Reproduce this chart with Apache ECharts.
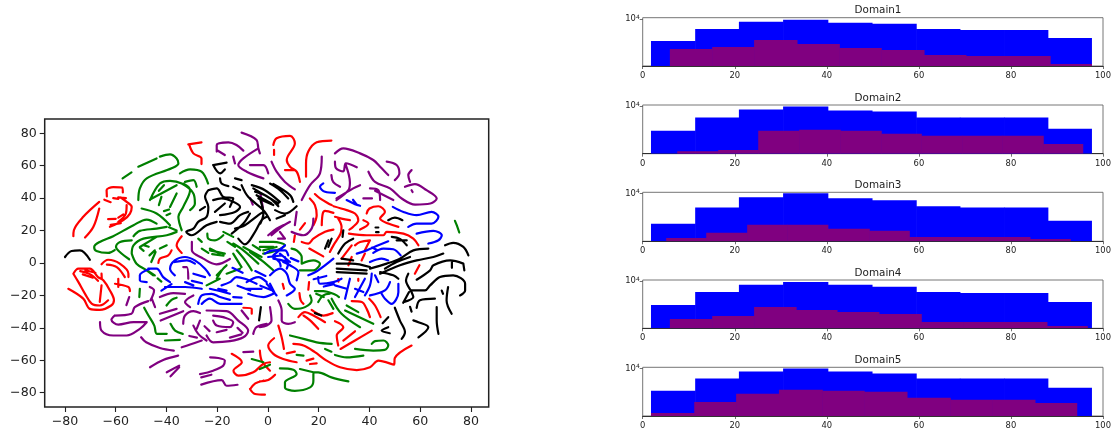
<!DOCTYPE html>
<html><head><meta charset="utf-8">
<style>html,body{margin:0;padding:0;background:#fff}#c{width:1119px;height:437px}</style>
<script src="https://cdn.jsdelivr.net/npm/echarts@6/dist/echarts.min.js"></script>
</head><body><div id="c"></div>
<script>
const xTicks=[-80,-60,-40,-20,0,20,40,60,80];
const yTicks=[-80,-60,-40,-20,0,20,40,60,80];
const histTicks=[0,20,40,60,80,100];
const domains=['Domain1','Domain2','Domain3','Domain4','Domain5'];
const blueEdges=[1.8,11.4,20.9,30.5,40.2,49.8,59.4,68.9,78.5,88,97.6];
const blue1=[4720,7120,9060,9710,8760,8460,7120,6880,6880,5230];
const blue2=[4360,6810,8960,9950,8660,8370,6810,6810,6810,4660];
const blue3=[3620,6280,8850,10150,8550,7980,6500,6280,6280,4010];
const blue4=[4450,6950,8850,9800,8850,8260,6950,6720,6720,4930];
const blue5=[4720,7120,9060,10050,9060,8460,7120,7120,7120,5230];
const purpleEdges1=[5.9,15.1,24.2,33.5,42.7,51.8,61.1,70.2,79.3,88.5,97.6];
const purple1=[3580,3840,4880,4260,3710,3460,2920,2820,2820,2140];
const purpleEdges2=[7.5,16.4,25.1,34,42.9,51.8,60.5,69.4,78.1,87,95.7];
const purple2=[2170,2270,4360,4510,4360,3930,3670,3670,3670,2790];
const purpleEdges3=[5.1,13.8,22.7,31.4,40.2,49.2,57.9,66.5,75.3,84.1,93];
const purple3=[2240,2660,3500,3500,3050,2850,2320,2320,2320,2170];
const purpleEdges4=[5.9,15.1,24.2,33.3,42.2,51.3,60.5,69.6,78.7,87.8,96.7];
const purple4=[2750,3050,4150,3750,3500,3270,2480,2480,2480,2170];
const purpleEdges5=[1.8,11.2,20.3,29.6,39,48.1,57.4,66.8,75.9,85.2,94.4];
const purple5=[2220,3230,4260,4880,4720,4560,3710,3460,3460,3120];

const redStrokes=[
[[-76.7,16.5],[-76.5,20.2],[-72.8,28.5],[-66.5,37.7]],[[-72.1,15.7],[-68.8,22.3],[-66.5,33.6]],
[[-63.5,41],[-63.6,45],[-61,46.8],[-57.5,46.5],[-57.2,43.5]],[[-64.5,39],[-62,37.5]],[[-61,40],[-59,39.5]],[[-59,40.5],[-56,40]],
[[-58,40.4],[-55.7,37.7],[-53.7,34.6],[-54.4,30.5],[-57,26.4],[-62.3,22.3]],[[-55.7,35.7],[-56,30.5],[-59,25.4]],
[[-63,27],[-60,27.2]],[[-59,28],[-57,30]],[[-62,23.5],[-58,24.5]],
[[-76.7,-6.6],[-74.7,-3.5],[-70.2,-3.5],[-67,-8.7],[-64.9,-10.7],[-62.3,-16.9],[-60.7,-23],[-61.8,-26.2],[-66.3,-28.9],[-70.2,-28.3],[-72.8,-22],[-78.7,-15.9]],
[[-76.7,-6.6],[-74.7,-11.8],[-72.1,-19],[-69.5,-25],[-66.3,-26.2],[-63,-23]],[[-65.6,-13.8],[-66.3,-24]],
[[-74,-5],[-70,-7],[-67,-11]],[[-73,-7],[-69,-9]],[[-72,-4.5],[-68,-6]],
[[-65.6,-0.8],[-63,2],[-58.4,-0.4],[-55,-6.6],[-55,-8.7]],[[-63.5,-1],[-59.6,-2.5],[-56.4,-8.7]],[[-60.3,-12.8],[-55,-14.8],[-54.4,-17.3]],
[[-65.6,-6.6],[-65.5,-10]],[[-59,-9.7],[-59,-14.8]],
[[-31.4,73.2],[-26.2,74.4]],[[-31,72.8],[-29.4,67.6],[-26.2,64.5],[-26.2,61]],
[[-34,16.5],[-36,10.9],[-34,6.2]],[[-38,7.8],[-39.3,4.7],[-42.6,2.7],[-43.2,0]],
[[2.1,72.8],[3.4,76.9],[8.7,78.4],[10.6,73.8],[7.4,63.5],[8.7,59.4],[11.3,56.3],[12.6,50]],[[2.4,69.7],[2.4,66.6]],[[6.7,57.3],[10.6,57.3]],
[[25,75.5],[19.2,74.4],[15.9,68.7],[15,61.4],[15,53.2]],
[[18.5,42.5],[20.5,39.8],[23.8,36.7],[25.1,35.7]],[[25.8,35],[31,32.6],[34.3,30.5],[35.6,26.4],[33.6,22.3],[32.1,20.6]],
[[16.5,39.8],[18.5,35.7],[19.2,29.5],[17.9,23.3]],[[21.2,23.3],[21.6,30.5],[22.5,32.2],[25.8,30.9]],[[26.4,28.5],[29,27.4],[32.3,26.4]],
[[27.7,27.4],[29,22.3],[28.6,18],[25.8,10.9],[24.4,6.8]],[[25.8,20.6],[22.5,19.2],[17.9,15],[15.9,12],[13.3,13]],[[10.6,17],[10.2,13]],[[12.6,20.6],[14.6,24.6]],
[[16.3,8.9],[21.8,4.1]],
[[38.9,30.5],[40,33.6],[43.5,35],[46.1,31.5],[44.2,27.4],[47.4,24.3],[51.4,22.3]],[[37.6,26.4],[39.6,24.3],[36.3,20.6]],
[[31.9,18.1],[38.9,17.1],[45.5,17.1],[46.8,19.2],[53.4,18.1],[57.3,15],[59.3,10.9]],
[[29,2.7],[33,10.9]],[[34.3,10.9],[36.3,13],[40.2,14],[38.2,7.8]],[[38.2,5.8],[36.9,1.6]],[[59.7,-1.4],[57.9,-6.6]],[[33,3.7],[31.7,-1.4]],
[[27.7,-10],[27.8,-11.5]],[[35.6,-9.7],[35.6,-11]],
[[12.4,-18.6],[12.9,-23],[14,-25.2]],[[5.8,-12.8],[6.3,-15.9]],[[16.2,-11.8],[15.9,-16.5]],
[[12,-33.4],[14.6,-30.3],[17.9,-32.4],[22.5,-36.5]],[[14,-32.4],[16.6,-35.4],[19.8,-40.6]],[[17.2,-28.9],[21.8,-32.4],[25.5,-30.9]],
[[26.4,-35.9],[29.7,-39.6],[27.1,-44.7],[27.7,-50.9]],[[29.7,-47.8],[34.3,-42.1]],[[28.6,-53],[34.3,-47.8],[40.9,-41.7]],
[[33,-23.5],[37,-24.1],[38.9,-28.3],[40.2,-33.4]],[[39.9,-22],[42.2,-26.2],[44.4,-33.4]],
[[10,-49.9],[14,-50.9],[18.5,-55],[23.1,-60.2],[28.4,-64.3],[35,-66],[40.2,-64.3],[43.5,-60.2],[49.7,-62.7],[50,-58.6],[56.6,-50.9]],
[[4.1,-38.6],[5.4,-45.8],[6.3,-53]],[[2.4,-46.4],[0.1,-50.9],[2.1,-56],[6,-59.2],[11.3,-61.2]],
[[-9.7,-27.6],[-6.4,-28.3],[-6.4,-31.3]],
[[-14.3,-56],[-10.3,-61.2],[-13.6,-66.4],[-11.7,-69.5],[-5.8,-67.4],[-1.8,-62.2],[0.8,-61.2]],[[-3.2,-54],[-2.5,-60.2],[-0.5,-64.3],[0.8,-66.4]],
[[-3.2,-73],[0.1,-72.2],[2.8,-68.9]],[[-7.1,-77.7],[-5.1,-80.8],[-1.2,-81.2]],[[-7,-77.7],[-5,-74.2],[-1.8,-72.6]],
[[7.4,-55.7],[10.6,-54.7]],[[15.2,-60.2],[17.9,-59]],[[16.6,-62.3],[19.2,-61.9]]
];
const greenStrokes=[
[[-57.3,52.2],[-53.8,55.9]],[[-51.1,59.4],[-43.9,64.5]],[[-42.6,65.6],[-38.6,67],[-36,64.5],[-35.3,61.4],[-38,58.4],[-47.8,52.2],[-50.5,46],[-51.1,38.8]],
[[-34.7,55.3],[-30.7,57.7],[-26.2,56.3],[-23.6,49]],[[-32.7,50],[-29.4,51.1],[-28.1,47]],
[[-46.5,38.8],[-42.6,49],[-38.6,50.7],[-34,49],[-29.4,42.9],[-28.8,36.7],[-30.7,32.6]],[[-46.5,39.2],[-36,48]],
[[-33.4,49],[-30.7,45],[-33.4,34.6],[-35.3,28.5],[-34,20.2]],[[-38.6,34.6],[-36,42.9]],[[-43,35.7],[-42,40.8]],[[-41,32],[-39,33]],[[-40,29.5],[-38.5,30.5]],[[-43,44.5],[-41,48]],
[[-49.8,33.6],[-43.9,30.5],[-38.6,23.3]],
[[-43.9,24.3],[-47.8,26.8],[-53,23.3],[-61,16.5],[-66.3,13],[-68.5,9.9],[-67.6,7.4],[-63,6.2],[-60.4,8]],
[[-53,16.5],[-50.5,19.8],[-43.9,21.2],[-39.9,22.3]],[[-53.7,14],[-58.3,13],[-59.9,9.9],[-58.4,6.8],[-54.7,2.3]],
[[-53.7,5.8],[-53,10.9],[-49.1,15],[-39.9,17.1],[-36,19.2]],[[-53.7,5.8],[-51.8,-0.4],[-47.8,-4.5],[-44.6,-7.6]],
[[-50.5,9.9],[-43.9,16.1]],[[-50.5,9.5],[-49,7.5]],[[-46,0.6],[-44.3,6.8]],[[-42.6,8.9],[-39.9,10.9]],[[-49,11],[-47,10]],[[-39,22],[-36,20]],
[[-23.9,18.1],[-23.5,15],[-20.9,14],[-17.6,17.1]],[[-27.5,15],[-26.1,13]],[[-26.1,8.9],[-23.5,6.2]],[[-22.9,7.8],[-17,5.8]],[[-22,5.5],[-17.5,4.5]],
[[-13.7,12],[-9.7,7.8],[-3.8,-0.4]],[[-12.3,7.8],[-9,1.6],[-6.4,-4.5]],[[-13.7,5.8],[-10.4,-2.5]],[[-7.1,6.8],[-2.5,1.6],[2.1,-4.5]],
[[-17.6,19.2],[-13.7,16.1]],[[-9.7,9.9],[-2.5,3.7]],[[-16,13],[-13,10]],[[-6,11],[-3,8]],
[[-3.2,13],[2.1,13],[6.7,10.9],[3.4,7.8],[-1.9,5.8]],[[-3.2,9.9],[2.1,9.9]],[[-1.9,7.8],[3.4,9.9]],
[[9.3,8.9],[11.3,7.8],[13.3,3.7],[13.3,-0.4],[17.9,1.6],[20.5,-0.4],[17.9,-4.5],[12.6,-4.5]],
[[73.7,26],[74.4,23.3],[75.4,18.8]],
[[18.5,-17.3],[21.8,-17.3],[26.4,-19.4],[28,-21]],[[19.8,-24.1],[21.8,-20],[24.4,-18.9]],[[19,-19],[22,-21]],
[[8,-25.2],[10.6,-28.3],[14.6,-27.2],[17.2,-23.1],[16.6,-20]],[[23.8,-23],[25.8,-28.3]],[[25.1,-22],[29,-31.3],[36.3,-39.6]],[[30.4,-29.3],[41.5,-37.5]],[[31,-26.2],[35.6,-30.3]],
[[8.7,-44.7],[14,-46.8],[19.2,-48.9],[25.1,-49.9]],[[22.5,-53],[25,-54.7]],[[26.4,-56.7],[31,-58.2],[37.6,-57.1]],
[[34.3,-53],[41.5,-54],[46,-53.6],[47.4,-50.9],[45.5,-47.8],[42.2,-48.2],[40.9,-49.9]],[[11.3,-56.7],[14,-57.1]],
[[4.7,-65],[10,-65.8],[11.3,-68.5],[6.7,-73.6],[6.7,-76.7],[10.6,-78.8],[16.6,-76.7],[17.9,-72.6],[17.9,-67.4],[19.8,-67.4],[25,-70.5],[31.7,-73]],[[12.6,-65.4],[17.9,-67.4]],
[[-50.5,-15.9],[-50.7,-21]],[[-48.8,-27.6],[-47.1,-32.4],[-44.8,-38.6],[-43.8,-43.7],[-39.9,-43.7]],[[-38.4,-37.5],[-36.6,-41.7],[-33.6,-43.7]],[[-40.6,-47.8],[-34.7,-47.4]],
[[-40,-26.2],[-38,-22.7],[-36,-21.4]],[[-24.2,-13.8],[-19,-9.7]],[[-20.2,-7.6],[-18.3,-4.5]],[[-47.8,-4.5],[-45.2,-7.6]],[[-43.5,-9.5],[-42,-11.5]],
[[-6.4,-59.2],[-1.8,-61.2]],[[-3.2,-65.4],[0.8,-62.7]],[[-16.3,-6.6],[-11,-3.5]],[[-20.2,-9.7],[-18.2,-4.5],[-16.3,-1.4]],[[-22.9,8.9],[-19,5.8]],[[-46.7,4.7],[-44.6,7.8]]
];
const blueStrokes=[
[[-46.5,-3.5],[-50.5,-7.6],[-50.5,-10.7],[-47.8,-11.8]],[[-47.2,-3.5],[-43.9,-3.5],[-41.3,-8.7],[-38.6,-11.8]],
[[-36.7,-7.6],[-38.6,-3.5],[-36.7,1.6],[-32.7,3.7],[-28.8,1.6],[-24.8,-3.5],[-22.9,-7.6]],[[-36.7,0.6],[-32,1.6],[-28.8,-0.4]],
[[-32.7,-11.8],[-29.4,-13.8]],[[-29.4,-6.6],[-24.8,-8.7]],[[-40.6,-14.8],[-32.7,-14.8],[-26.1,-15.9]],
[[-27.5,-25.2],[-26.1,-20],[-22.2,-19],[-18.9,-21],[-15,-22.7]],[[-26.1,-25.2],[-22.9,-22],[-18.9,-25.2],[-10.4,-25.2]],
[[-22.9,-15.9],[-17.6,-17.9],[-15,-19]],[[-19.6,-15.9],[-16.3,-17]],[[-13.7,-21],[-10.4,-21.4]],
[[-18.3,-13.8],[-15,-11.8],[-12.4,-8.7],[-9.1,-9.7],[-4.5,-12.8]],[[-8.4,-15.9],[-2.5,-15.9]],[[-7.8,-19],[-1.8,-21],[2.1,-19]],[[-8.4,-11.8],[-3.8,-8.7],[-0.5,-11.8]],[[-0.5,-12.8],[3.4,-20]],
[[-1.2,5.8],[2.1,7.8],[6.7,7.8],[8,4.7]],[[0.1,3.7],[5.4,4.7]],[[2.1,2.7],[8,-0.4],[7.4,-3.5]],[[2,4],[4.5,0.5],[5,-2]],
[[0.8,-7.6],[4.7,-3.5],[7.4,-6.6],[8.7,-12.8],[10.6,-15.9],[7.4,-20]],[[0.8,-12.8],[2.8,-19]],[[6,0.6],[8.7,-1.4],[12,-5.6],[11.3,-10.7]],[[6.7,3.7],[7.4,-0.4]],
[[15.9,-7.6],[19.8,-4.5],[25.8,2.7]],[[19.8,-8.7],[20.5,-12.8],[25.8,-11.8],[29,-9.7]],[[26.4,-13.8],[31,-15.9]],[[32.3,-9.7],[30.4,-22]],
[[34.3,-15.9],[37.6,-17.9]],[[38.2,-9.7],[34.3,-21]],[[40.9,-6.6],[40.2,-13.8],[38.2,-20]],[[40.2,-20],[46.1,-16.9],[48.1,-11.8]],[[42.2,-7.6],[43.5,-11.8]],
[[51.4,-12.8],[51.4,-18],[48.7,-25.2],[46.1,-22],[44.8,-19]],
[[21.8,49.1],[20.5,47],[22.5,43.9],[26.4,43.3]],[[31,38.8],[34.3,36.3],[36.3,35.3]],[[33.5,39],[35,36]],
[[49.2,34.6],[53.4,31.5],[58.6,29.5],[64.5,31.5],[67.2,28.5],[64.5,24.3],[58.6,24.3],[55.3,22.3]],[[58.6,18.1],[65.2,19.8],[68.5,17.1],[67.2,14],[63.2,12]],
[[35,5.8],[38.9,7.8],[43.5,10.9],[47.4,13.4]],[[41.5,6.2],[45.5,8.9],[49.4,8.5],[52.3,4.7]],[[40.2,0.6],[44.8,2.7],[47.4,1.6]],[[41,9.5],[43,8]],
[[2.1,4.7],[6.7,10.9]],[[4.7,5.8],[8.7,0.6]],
[[-42,-17],[-38,-13]],[[-30,-11],[-26,-12.5]],[[-12,-14],[-7,-17]],[[-3,-14],[1,-16.5]],[[-14,-3],[-10,-6]],[[9,3],[12,1]],[[18,-10],[23,-8]],[[22,-14.5],[26,-13]],[[-5,-5],[-1,-8]]
];
const purpleStrokes=[
[[-10.4,80.4],[-4.5,75.9],[-3.8,70.7],[-3.2,67.6]],[[-3.8,70.7],[-9.7,64.5],[-11.7,60.4],[-8.4,56.3],[-1.8,52.2]],
[[-20.2,68.7],[-20.2,72.8],[-15.6,74.4],[-12.4,72.8],[-9.7,69.3]],[[-20.2,69.7],[-17,66.6]],[[-13.7,65.6],[-13,61.4]],[[-7.1,60.4],[-1.8,60.4],[0.1,55.3]],
[[1.4,62.5],[3.4,56.3],[6.7,50],[10.6,45.4]],[[21.2,65.6],[20.5,55.3],[16.6,48],[13.3,38.8]],
[[26.4,67.6],[29.7,70.7],[36.3,67.6],[41.5,63.5],[44.2,59.4],[47.4,54.2]],
[[39.6,56.3],[42.2,50],[48.1,46],[52.7,39.8],[58,36],[64,36.7],[66.5,39.8],[62.5,44.9],[57.9,48.7],[54,47]],
[[26.4,62.5],[26.8,58.5],[29.7,56.5],[30.7,61.5],[35,59]],[[30.7,60.4],[32.3,49.7],[31.7,44.9],[27,38.8]],[[27,39.8],[33.6,46],[36.3,48]],[[25,54.2],[25.7,50],[28.4,47]],
[[46.8,62.5],[50.7,60.4],[51.8,55.3],[50,51.1]],[[56.6,57.3],[55.3,54.2],[56,50]],[[40.2,46],[43.5,44.9],[44.2,38.8]],[[42.2,44.5],[49.4,38.8]],[[37.6,39.8],[41,39.8]],[[56.6,44.9],[57,43.8]],
[[11.3,31.5],[10.6,23.3]],[[17.9,27.4],[17.2,21.2],[13.9,17.1],[9.3,19.2]],[[1.4,17.1],[5.4,22.3],[8.7,25.4]],[[4.7,19.2],[6.7,15],[4,15]],
[[-30,13],[-30,7.8],[-25.5,2.7],[-20.3,-0.8],[-15,2.5]],[[0.1,17.1],[3.4,21.2],[6,23.3]],
[[-66.2,-36.5],[-65.6,-41.7],[-61,-44.7],[-55.7,-44.7],[-50.5,-40.6],[-47.8,-36.5]],[[-60.4,-32.4],[-61.7,-35],[-59,-38],[-53,-36.5],[-47.8,-36.5]],
[[-60.4,-32.4],[-53.8,-31.3],[-52.5,-27.2],[-47.2,-23.5]],[[-55.8,-26],[-54.7,-21]],[[-46.3,-23],[-44.9,-16.9],[-46.6,-14.8]],[[-44.5,-27.2],[-45.8,-22]],
[[-42.6,-21],[-37.3,-18.6],[-32.7,-19]],[[-30.7,-27.2],[-32.7,-24.1],[-29.4,-20]],[[-42.6,-31.3],[-36,-28.3]],[[-42.3,-35.5],[-33.4,-29.7]],
[[-50,-45.8],[-48,-48.9],[-42.6,-52.4],[-37.1,-54]],[[-46.5,-64.3],[-41.3,-59.8],[-35.4,-57.1]],[[-39.9,-67.4],[-35,-63.3]],[[-38.4,-69.9],[-35,-64.3]],
[[-26.8,-68.5],[-21.6,-66.4],[-17.6,-63.3],[-17,-60.2],[-19.6,-58.6],[-22.8,-58.2]],[[-26.3,-70.5],[-22.3,-68.9]],[[-26.3,-75],[-18.3,-72.2],[-16.3,-75.7],[-12,-75.1]],[[-9.7,-55],[-5.8,-54.7]],
[[-33.4,-37.5],[-32.7,-32.4],[-29.4,-29.7],[-26.8,-30.9]],[[-24.2,-29.3],[-16.3,-29.7],[-11.7,-35.5],[-7.8,-41.7],[-9.7,-45.8],[-15,-48.2],[-21.6,-48.9],[-24.2,-44.7]],
[[-21.6,-32.4],[-17.6,-33.4],[-13.7,-36.5],[-15,-39.6],[-20.2,-38.6],[-21.6,-35.5]],[[-10.4,-29.3],[-7.8,-34.4]],[[-28.1,-40.6],[-26.8,-35.5]],[[-29.4,-38.6],[-27.5,-43.7],[-24.2,-47.8]],
[[-20.2,-42.7],[-16.3,-41.2]],[[-15,-46],[-10.5,-44]],[[-34,-52],[-30.7,-50.3],[-26.1,-47.8]],[[-5.8,-43.7],[-4.5,-39.6],[-0.5,-37.5]],[[-33.4,-2.5],[-32,-2.5],[-31.4,-9.7]],
[[4.1,-23.1],[5.4,-29.3],[5.4,-35.5],[8,-37.5],[10.6,-36.5]],[[0.8,-27.2],[1.4,-35.5],[-0.5,-38.6],[-3.2,-39.6]],
[[-31,-45],[-28,-46]],[[-25,-39],[-23,-42]],[[-12,-40],[-10,-43]],[[-7,40],[-6,36]],[[-3,43],[-2,34]]
];
const blackStrokes=[
[[-80,3.7],[-77.4,7.4],[-74.1,7.8],[-70.2,2]],[[-21.6,60.4],[-16.3,61.9]],[[-21.6,60.4],[-18.9,55.3],[-17,57.7]],[[-18.9,52.2],[-18.3,49],[-15.6,47.4]],
[[-13,52.2],[-10.4,51.1]],[[-13.7,47],[-11,45]],[[-10.4,48],[-7.8,40.8],[-1.8,32.6],[0.8,26.4]],
[[-23.5,44.9],[-24.8,40.8],[-23.5,34.6],[-24.2,28.5],[-27.5,25.4],[-29.4,21.2],[-32.2,19.2],[-30.2,17.1],[-24.2,23.3],[-20.2,25.4]],
[[-23.5,44.9],[-20.2,46],[-17.6,40.8],[-13.7,39.8],[-15,34.6]],[[-21.6,38.8],[-18.3,39.8],[-13.7,37.7],[-11,34.6],[-13,31.5],[-18.9,29.5]],[[-20.9,31.5],[-17,36.7]],
[[-18.9,25.4],[-15,24.3],[-11,29.5],[-7.8,31.5]],[[-14.3,18.1],[-9.7,24.3],[-7.1,30.5]],[[-13,21.2],[-9.1,23.3],[-3.8,29.5],[-1.8,31.5]],[[-11.7,15],[-9.1,11.5],[-5.1,19.2],[-2.5,26.4],[-0.5,28.5]],
[[-26.8,32.6],[-24.8,34.6]],
[[-6.4,48],[-1.2,44.9],[4.7,37.7]],[[-5.8,46],[-1.2,41.8],[4.1,36.7]],[[-5.1,44],[0,40.8],[4.1,35]],[[-4.5,41.8],[1.4,36.7]],[[-3.8,39.8],[2.1,35.7]],[[2.1,48.7],[8.7,41.9],[10,37.7]],[[0.8,49],[4.7,45],[8,39.8]],
[[2.8,32.6],[6.7,30.5],[11.3,35]],[[3.4,27.4],[6.7,29.5]],[[-3,38.8],[-1.8,30.5],[-3,24.3]],
[[47.4,26.4],[50,28],[53,26.4]],[[42.4,21.9],[43.5,21.9]],[[42.6,19],[43.6,19]],[[48.8,16.1],[52,14.9],[54.7,10.9]],[[50.7,14],[54.7,14]],
[[27.7,5.8],[30.4,12],[33.6,15]],[[23.8,14],[22.5,8.9]],[[25.1,15],[23.8,9.9]],[[29.7,20.2],[29.4,16.1]],[[69.8,10.9],[73,12.4],[77,9.9],[79,4.7]],
[[27.1,-0.4],[33,-0.4],[40.2,-2.5]],[[27.1,-3.5],[38.9,-4.5]],[[27.1,-5.6],[38.9,-6.6]],[[29,2.7],[33.6,1.6]],
[[40.2,-3.5],[46.8,-0.4],[52,2.7],[57.3,7.8],[63.2,8.9]],[[44.2,-6.6],[52,-1.4],[58.6,1.6],[65.2,3.7],[69.1,5.8]],[[46.1,-3.5],[50.7,0.6],[56,3.7]],[[44.2,-5.6],[49.4,-7.6],[51.4,-9.7]],
[[58.6,-10.3],[63.9,-4.5],[65.2,-1.4],[71.8,1.6],[77,-0.4]],[[72.5,0.5],[72.5,-3]],[[77,-0.4],[77.4,-4.5]],
[[53.4,-24.1],[57.3,-21],[56.6,-18],[54.4,-10.7],[55.3,-6.6]],[[56.6,-16.9],[61.9,-16.9],[63.9,-13.8],[67.8,-8.7],[73,-7.6],[77.7,-12.8],[77.7,-16.9],[75.7,-20]],
[[58.6,-27.7],[59.9,-23],[65.8,-22]],[[57.3,-35.4],[59.3,-36.5],[63.2,-39.6],[59.3,-45.8]],[[55.6,-17.9],[53.3,-24.5]],[[56,-27],[56.6,-30]],
[[50,-27.6],[52,-35.5],[54,-42.7],[52.7,-46.8]],[[47.4,-33.4],[45.2,-37.1]],[[47.4,-39.6],[44.8,-41.7],[48,-43.3]],
[[66.5,-27.2],[66.5,-35.4],[67.2,-43.7]],[[71,-14.8],[70.4,-23.1],[72.4,-31.3]],[[68.5,-17],[69,-19]],[[18.5,-30.9],[21,-32.4]],[[-2.8,-27.2],[-3.5,-35.4]]
];

const blues=[blue1,blue2,blue3,blue4,blue5];
const purples=[purple1,purple2,purple3,purple4,purple5];
const pEdges=[purpleEdges1,purpleEdges2,purpleEdges3,purpleEdges4,purpleEdges5];
const histTops=[17.7,105,192.3,280,367.3];
const histBottoms=[66,153.7,241.3,328.3,416];
const yLogMin=2000, yLogMax=10450;
const FONT='"DejaVu Sans",sans-serif';

function withBreaks(strokes){const out=[];strokes.forEach(s=>{s.forEach(p=>out.push(p));out.push([null,null]);});return out;}
const strokeSeries=[['#ff0000',redStrokes],['#008000',greenStrokes],['#0000ff',blueStrokes],['#800080',purpleStrokes],['#000000',blackStrokes]].map(([color,st])=>({
  type:'line',xAxisIndex:0,yAxisIndex:0,data:withBreaks(st),smooth:0.35,connectNulls:false,showSymbol:false,symbol:'none',
  lineStyle:{color,width:2.2,cap:'round',join:'round'},silent:true,animation:false
}));

function bins(edges,vals){return vals.map((v,i)=>[edges[i],edges[i+1],v]);}
function barRender(color,count){return function(params,api){
  const a=api.coord([api.value(0),api.value(2)]);
  const b=api.coord([api.value(1),yLogMin]);
  const overlap=params.dataIndex<count-1?0.6:0;
  return {type:'rect',shape:{x:a[0],y:a[1],width:b[0]-a[0]+overlap,height:b[1]-a[1]},style:{fill:color}};
};}

const grids=[{left:44.7,top:119,width:444,height:288,show:true,borderColor:'#222',borderWidth:1.5,backgroundColor:'#fff'}];
const xAxes=[{type:'value',gridIndex:0,min:-88,max:87,splitLine:{show:false},axisLine:{show:false,onZero:false},
  axisTick:{customValues:xTicks,length:5,lineStyle:{color:'#222',width:1.1}},
  axisLabel:{customValues:xTicks,fontFamily:FONT,fontSize:12.6,color:'#222',margin:8,formatter:v=>String(v).replace('-','\u2212')}}];
const yAxes=[{type:'value',gridIndex:0,min:-88.8,max:88.8,splitLine:{show:false},axisLine:{show:false,onZero:false},
  axisTick:{customValues:yTicks,length:5,lineStyle:{color:'#222',width:1.1}},
  axisLabel:{customValues:yTicks,fontFamily:FONT,fontSize:12.6,color:'#222',margin:8,formatter:v=>String(v).replace('-','\u2212')}}];
const series=[...strokeSeries];
const titles=[];
domains.forEach((d,i)=>{
  const k=i+1;
  grids.push({left:642.7,top:histTops[i],width:460.3,height:histBottoms[i]-histTops[i],show:true,borderColor:'#666',borderWidth:0.9});
  xAxes.push({type:'value',gridIndex:k,min:0,max:100,interval:20,splitLine:{show:false},
    axisLine:{show:true,onZero:false,lineStyle:{color:'#222',width:0.9}},
    axisTick:{customValues:histTicks,length:3,lineStyle:{color:'#333',width:0.7}},
    axisLabel:{customValues:histTicks,fontFamily:FONT,fontSize:8.4,color:'#222',margin:6}});
  yAxes.push({type:'log',gridIndex:k,min:yLogMin,max:yLogMax,splitLine:{show:false},minorTick:{show:false},
    axisLine:{show:false,onZero:false},
    axisTick:{customValues:[10000],length:3,lineStyle:{color:'#333',width:0.7}},
    axisLabel:{customValues:[10000],color:'#222',margin:3,formatter:()=>'{a|10}{b|4}',
      rich:{a:{fontFamily:FONT,fontSize:8.4,color:'#222',lineHeight:10},b:{fontFamily:FONT,fontSize:6,color:'#222',lineHeight:10,verticalAlign:'top'}}}});
  series.push({type:'custom',xAxisIndex:k,yAxisIndex:k,data:bins(blueEdges,blues[i]),encode:{x:[0,1],y:2},renderItem:barRender('#0000ff',blues[i].length),silent:true,animation:false,clip:true,z:2});
  series.push({type:'custom',xAxisIndex:k,yAxisIndex:k,data:bins(pEdges[i],purples[i]),encode:{x:[0,1],y:2},renderItem:barRender('#800080',purples[i].length),silent:true,animation:false,clip:true,z:3});
  titles.push({text:d,left:873,top:histTops[i]-17,textAlign:'center',textStyle:{fontFamily:FONT,fontSize:10.4,fontWeight:'normal',color:'#222'}});
});
const chart=echarts.init(document.getElementById('c'),null,{renderer:'canvas'});
chart.setOption({animation:false,backgroundColor:'#fff',title:titles,grid:grids,xAxis:xAxes,yAxis:yAxes,series});
</script></body></html>
